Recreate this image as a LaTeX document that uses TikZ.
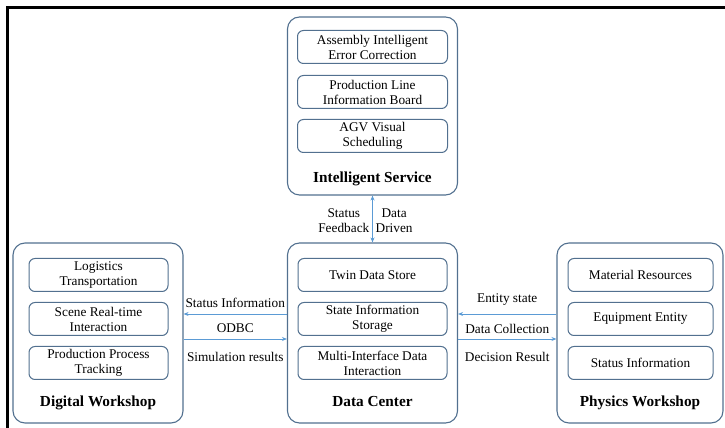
\documentclass[tikz,border=0pt]{standalone}
\usepackage{fontspec}
\setmainfont{Liberation Serif}
\usetikzlibrary{arrows.meta,positioning,calc}
\definecolor{boxblue}{HTML}{52708F}
\definecolor{arrblue}{HTML}{5B9BD5}

\begin{document}
\begin{tikzpicture}[
  x=1pt, y=1pt,
  node distance=10pt,
  every node/.style={font=\fontsize{13.3}{15}\selectfont},
  panel/.style={draw=boxblue, line width=1.1pt, rounded corners=12pt,
                minimum width=170pt, minimum height=180pt},
  item/.style={draw=boxblue, line width=1pt, rounded corners=6pt,
               minimum height=33pt, align=center, inner sep=0pt},
  title/.style={font=\fontsize{15.3}{17}\selectfont\bfseries},
  lbl/.style={align=center, inner sep=1pt},
  arr/.style={-{Stealth[length=5pt,width=4pt]}, draw=arrblue, line width=0.8pt}
]
  \useasboundingbox (0,0) rectangle (725,428);
  \draw[line width=3pt] (7,0) -- (7,420) -- (725,420);

  % panels
  \node[panel, minimum height=178pt] (is) at (372.5,322) {};
  \node[panel] (dc) at (372.5,95) {};
  \node[panel] (dw) at (98,95) {};
  \node[panel, minimum width=166pt] (pw) at (640,95) {};

  % intelligent service
  \node[item, minimum width=150pt] (aec) at (372.5,381) {Assembly Intelligent\\Error Correction};
  \node[item, minimum width=150pt, below=11pt of aec] (plb) {Production Line\\Information Board};
  \node[item, minimum width=150pt, below=of plb] (agv) {AGV Visual\\Scheduling};
  \node[title] (ist) at ([yshift=17pt]is.south) {Intelligent Service};

  % data center
  \node[item, minimum width=149pt] (tds) at (372.5,153) {Twin Data Store};
  \node[item, minimum width=149pt, below=of tds] (sis) {State Information\\Storage};
  \node[item, minimum width=149pt, below=of sis] (mid) {Multi-Interface Data\\Interaction};
  \node[title] (dct) at ([yshift=22pt]dc.south) {Data Center};

  % digital workshop
  \node[item, minimum width=139pt] (lt) at (98.5,153) {Logistics\\Transportation};
  \node[item, minimum width=139pt, below=of lt] (sri) {Scene Real-time\\Interaction};
  \node[item, minimum width=139pt, below=of sri] (ppt) {Production Process\\Tracking};
  \node[title] (dwt) at ([yshift=21pt]dw.south) {Digital Workshop};

  % physics workshop
  \node[item, minimum width=145pt] (mr) at (640.5,153) {Material Resources};
  \node[item, minimum width=145pt, below=of mr] (ee) {Equipment Entity};
  \node[item, minimum width=145pt, below=of ee] (sti) {Status Information};
  \node[title] (pwt) at ([yshift=21pt]pw.south) {Physics Workshop};

  % connectors
  \draw[arr, {Stealth[length=5pt,width=4pt]}-{Stealth[length=5pt,width=4pt]}] (is.south) -- (dc.north);
  \node[lbl, anchor=east] (sfb) at ($(is.south)!0.5!(dc.north)+(-2,-2)$) {Status\\Feedback};
  \node[lbl, anchor=west] (ddr) at ($(is.south)!0.5!(dc.north)+(2,-2)$) {Data\\Driven};

  \draw[arr] ([yshift=19pt]dc.west) -- ([yshift=19pt]dw.east);
  \draw[arr] ([yshift=-6pt]dw.east) -- ([yshift=-6pt]dc.west);
  \node[lbl] (sin) at ($(dw.east)!0.5!(dc.west)+(0,30)$) {Status Information};
  \node[lbl] (odbc) at ($(dw.east)!0.5!(dc.west)+(0,5)$) {ODBC};
  \node[lbl] (simr) at ($(dw.east)!0.5!(dc.west)+(0,-24)$) {Simulation results};

  \draw[arr] ([yshift=19pt]pw.west) -- ([yshift=19pt]dc.east);
  \draw[arr] ([yshift=-6pt]dc.east) -- ([yshift=-6pt]pw.west);
  \node[lbl] (est) at ($(dc.east)!0.5!(pw.west)+(0,33)$) {Entity state};
  \node[lbl] (dcol) at ($(dc.east)!0.5!(pw.west)+(0,4)$) {Data Collection};
  \node[lbl] (decr) at ($(dc.east)!0.5!(pw.west)+(0,-24)$) {Decision Result};
\end{tikzpicture}
\end{document}
